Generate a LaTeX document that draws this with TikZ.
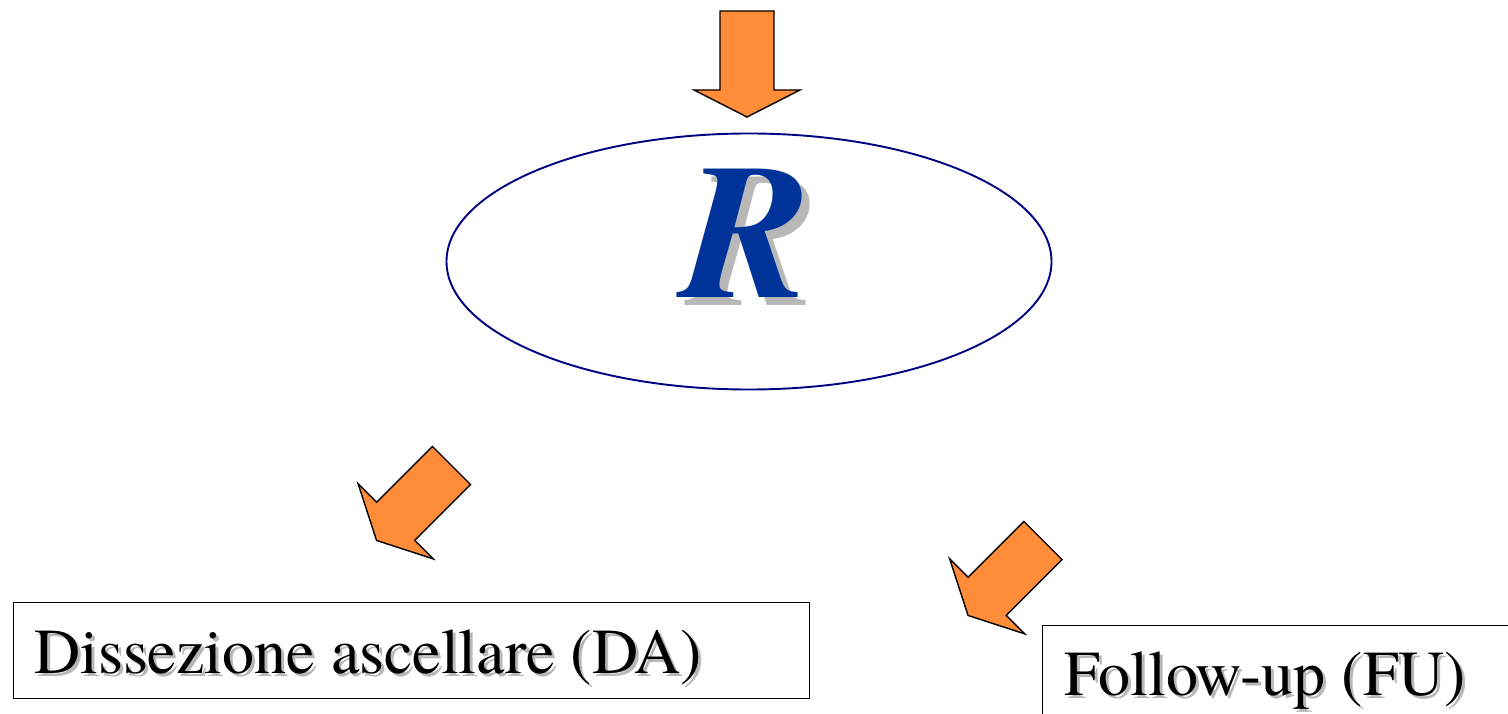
\documentclass[tikz,border=0pt]{standalone}
\usepackage{fontspec}
\setmainfont{texgyretermes}[
  Extension=.otf,
  UprightFont=*-regular,
  BoldFont=*-bold,
  ItalicFont=*-italic,
  BoldItalicFont=*-bolditalic]
\usetikzlibrary{shapes.geometric}

\definecolor{arroworange}{RGB}{255,140,56}
\definecolor{rblue}{RGB}{0,51,153}
\definecolor{ringblue}{RGB}{0,0,128}
\definecolor{shadowgray}{RGB}{184,184,184}

% text with a soft grey drop shadow
\newcommand{\shadowed}[2]{\leavevmode\rlap{\hspace{#1}\raisebox{-#1}{\textcolor{shadowgray}{#2}}}#2}

\tikzset{
  x=1pt, y=-1pt,
  arrowstyle/.style={fill=arroworange, draw=black, line width=1.4pt, line join=miter},
  blockarrow/.pic={
    \draw[arrowstyle] (-27,0) -- (27,0) -- (27,79) -- (53,79) -- (0,106)
      -- (-53,79) -- (-27,79) -- cycle;
  },
  labelbox/.style={draw=black, line width=1.4pt, inner sep=0pt, anchor=north west},
  boxtext/.style={inner sep=0pt, anchor=base west, font=\rmfamily\fontsize{64}{70}\selectfont},
  bigR/.style={inner sep=0pt, text=rblue, font=\rmfamily\fontsize{192}{200}\selectfont\bfseries\itshape},
}

\begin{document}
\begin{tikzpicture}
  \clip (0,0) rectangle (1508,714);
  \fill[white] (0,0) rectangle (1508,714);

  % incoming arrow
  \pic (arrTop) at (747,11) {blockarrow};

  % randomisation node
  \node[ellipse, draw=ringblue, line width=1.9pt, minimum width=605pt,
        minimum height=256pt, inner sep=0pt] (rand) at (749,261.5) {};
  \node[bigR] (R) at (747,237) {\shadowed{8pt}{R}};

  % the two arms
  \pic[rotate=-45] (arrL) at (451.5,465.5) {blockarrow};
  \pic[rotate=-45] (arrR) at (1043,540.5) {blockarrow};

  \node[labelbox, minimum width=796pt, minimum height=96pt] (boxDA) at (12.5,602) {};
  \node[boxtext] (txtDA) at (34,673) {\shadowed{3pt}{Dissezione ascellare (DA)}};

  \node[labelbox, minimum width=480pt, minimum height=110pt] (boxFU) at (1042,624.5) {};
  \node[boxtext] (txtFU) at (1064,695) {\shadowed{3pt}{Follow-up (FU)}};
\end{tikzpicture}
\end{document}
